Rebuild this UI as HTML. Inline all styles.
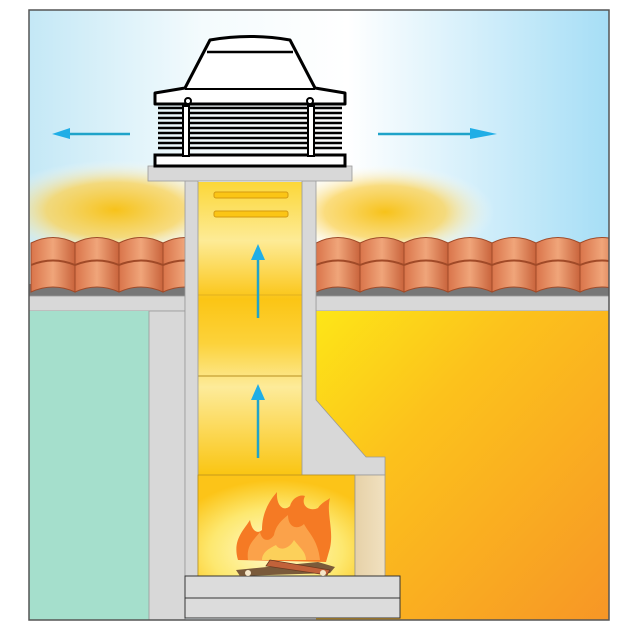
<!DOCTYPE html>
<html><head><meta charset="utf-8"><style>html,body{margin:0;padding:0;background:#fff}svg{display:block}</style></head><body>
<svg width="630" height="630" viewBox="0 0 630 630" xmlns="http://www.w3.org/2000/svg">
<defs>
<linearGradient id="sky" x1="0" y1="0" x2="1" y2="0">
<stop offset="0" stop-color="#c4e8f6"/><stop offset="0.3" stop-color="#f4fbfd"/><stop offset="0.55" stop-color="#ffffff"/><stop offset="1" stop-color="#a6def6"/></linearGradient>
<radialGradient id="glowL" cx="0.5" cy="0.5" r="0.5"><stop offset="0" stop-color="#f7c21a"/><stop offset="0.55" stop-color="#fad45e" stop-opacity="0.8"/><stop offset="1" stop-color="#fff" stop-opacity="0"/></radialGradient>
<linearGradient id="rightw" x1="0" y1="0" x2="1" y2="1"><stop offset="0" stop-color="#fde617"/><stop offset="0.35" stop-color="#fcc21c"/><stop offset="1" stop-color="#f79626"/></linearGradient>
<linearGradient id="chim" x1="0" y1="0" x2="0" y2="1"><stop offset="0" stop-color="#fcd738"/><stop offset="0.2" stop-color="#fdeb96"/><stop offset="0.4" stop-color="#fbc515"/><stop offset="0.55" stop-color="#fcd23a"/><stop offset="0.7" stop-color="#fdeb9a"/><stop offset="1" stop-color="#fac512"/></linearGradient>
<radialGradient id="fireg" cx="0.5" cy="0.75" r="0.7"><stop offset="0" stop-color="#fffbd0"/><stop offset="0.6" stop-color="#fde870"/><stop offset="1" stop-color="#fcc418"/></radialGradient>
<linearGradient id="tile" x1="0" y1="0" x2="1" y2="0"><stop offset="0" stop-color="#d9744a"/><stop offset="0.5" stop-color="#f0a57a"/><stop offset="1" stop-color="#c9643c"/></linearGradient>
<linearGradient id="pillar" x1="0" y1="0" x2="1" y2="0"><stop offset="0" stop-color="#e6d1a8"/><stop offset="1" stop-color="#f1e1c0"/></linearGradient>
<clipPath id="cl"><rect x="29" y="200" width="156" height="100"/><rect x="316" y="200" width="293" height="100"/></clipPath>
<clipPath id="fr"><rect x="29" y="10" width="580" height="610"/></clipPath>
</defs>
<rect x="0" y="0" width="630" height="630" fill="#fff"/>
<g clip-path="url(#fr)">
<rect x="29" y="10" width="580" height="610" fill="url(#sky)"/>
<ellipse cx="115" cy="210" rx="125" ry="50" fill="url(#glowL)"/>
<ellipse cx="385" cy="212" rx="110" ry="48" fill="url(#glowL)"/>
<g clip-path="url(#cl)">
<rect x="29" y="284" width="600" height="12" fill="#777"/>
<g id="tl">
<path d="M31 243 Q53 232 75 243 L75 292 Q53 282 31 292Z" fill="url(#tile)" stroke="#a04a28"/>
<path d="M31 265 Q53 256 75 265" fill="none" stroke="#a04a28" stroke-width="2"/>
</g>
<use href="#tl" x="44"/><use href="#tl" x="88"/><use href="#tl" x="132"/>
<use href="#tl" x="285"/><use href="#tl" x="329"/><use href="#tl" x="373"/><use href="#tl" x="417"/><use href="#tl" x="461"/><use href="#tl" x="505"/><use href="#tl" x="549"/>
</g>
<rect x="29" y="296" width="156" height="15" fill="#d8d8d8" stroke="#999" stroke-width="0.8"/>
<rect x="316" y="296" width="293" height="15" fill="#d8d8d8" stroke="#999" stroke-width="0.8"/>
<rect x="29" y="311" width="120" height="309" fill="#a5dfcc"/>
<rect x="149" y="311" width="36" height="309" fill="#d8d8d8" stroke="#999" stroke-width="0.8"/>
<rect x="316" y="311" width="293" height="309" fill="url(#rightw)"/>
</g>
<rect x="198" y="182" width="104" height="293" fill="url(#chim)"/>
<line x1="198" y1="295" x2="302" y2="295" stroke="#d8a820" stroke-width="0.8"/>
<line x1="198" y1="376" x2="302" y2="376" stroke="#b89020" stroke-width="1"/>
<rect x="214" y="192" width="74" height="6" rx="2" fill="#fbc515" stroke="#d49a10"/>
<rect x="214" y="211" width="74" height="6" rx="2" fill="#fbc515" stroke="#d49a10"/>
<rect x="185" y="180" width="13" height="400" fill="#d8d8d8" stroke="#999" stroke-width="0.8"/>
<path d="M302 180 L316 180 L316 400 L366 457 L385 457 L385 475 L302 475Z" fill="#d8d8d8" stroke="#999" stroke-width="0.8"/>
<rect x="198" y="475" width="157" height="101" fill="url(#fireg)" stroke="#b89020" stroke-width="0.8"/>
<rect x="355" y="475" width="30" height="101" fill="url(#pillar)" stroke="#999" stroke-width="0.8"/>
<rect x="185" y="576" width="215" height="22" fill="#dcdcdc" stroke="#333" stroke-width="1"/>
<rect x="185" y="598" width="215" height="20" fill="#dcdcdc" stroke="#333" stroke-width="1"/>
<path d="M238 560 C232 540 244 530 250 520 C252 532 258 534 262 530 C262 512 270 500 277 492 C276 506 284 512 290 506 C292 498 300 494 305 496 C300 506 310 512 318 508 C322 502 328 500 330 498 C326 512 334 530 330 548 L326 562Z" fill="#f57a24"/>
<path d="M248 560 C246 545 254 540 260 532 C262 542 270 542 274 535 C276 525 282 520 288 515 C288 528 298 530 304 524 C308 532 318 540 320 560Z" fill="#fba24a"/>
<path d="M262 560 C262 552 270 548 276 545 C280 552 290 548 294 540 C300 548 306 552 306 560Z" fill="#fcd05a"/>
<path d="M236 570 L318 562 L335 567 L330 573 L240 576Z" fill="#7a5a3a"/>
<path d="M270 560 L330 570 L327 575 L266 566Z" fill="#c2623a" stroke="#6a3a20" stroke-width="0.8"/>
<circle cx="248" cy="573" r="3" fill="#f5e6c8"/><circle cx="323" cy="573" r="3" fill="#f5e6c8"/>
<rect x="148" y="166" width="204" height="15" fill="#d8d8d8" stroke="#999" stroke-width="0.8"/>
<rect x="155" y="155" width="190" height="11" fill="#fff" stroke="#000" stroke-width="3"/>
<g stroke="#000" stroke-width="2.6">
<line x1="158" y1="108" x2="342" y2="108"/><line x1="158" y1="113" x2="342" y2="113"/><line x1="158" y1="118" x2="342" y2="118"/><line x1="158" y1="123" x2="342" y2="123"/><line x1="158" y1="128" x2="342" y2="128"/><line x1="158" y1="133" x2="342" y2="133"/><line x1="158" y1="138" x2="342" y2="138"/><line x1="158" y1="143" x2="342" y2="143"/><line x1="158" y1="148" x2="342" y2="148"/>
</g>
<rect x="183" y="106" width="6" height="50" fill="#fff" stroke="#000" stroke-width="2"/>
<rect x="308" y="106" width="6" height="50" fill="#fff" stroke="#000" stroke-width="2"/>
<path d="M155 93 L185 88 L210 40 Q250 33 290 40 L315 88 L345 93 L345 104 L155 104Z" fill="#fff" stroke="#000" stroke-width="3" stroke-linejoin="round"/>
<line x1="207" y1="52" x2="293" y2="52" stroke="#000" stroke-width="2.5"/>
<line x1="185" y1="89" x2="315" y2="89" stroke="#000" stroke-width="2"/>
<circle cx="188" cy="101" r="3" fill="#fff" stroke="#000" stroke-width="2"/>
<circle cx="310" cy="101" r="3" fill="#fff" stroke="#000" stroke-width="2"/>
<g stroke="#1fa3c9" stroke-width="2.5" fill="#20aee6">
<line x1="258" y1="318" x2="258" y2="255"/><path d="M251 260 L258 244 L265 260Z" stroke="none"/>
<line x1="258" y1="458" x2="258" y2="395"/><path d="M251 400 L258 384 L265 400Z" stroke="none"/>
<line x1="130" y1="134" x2="65" y2="134"/><path d="M70 128 L52 134 L70 139Z" stroke="none"/>
<line x1="378" y1="134" x2="480" y2="134"/><path d="M470 128 L497 134 L470 139Z" stroke="none"/>
</g>
<rect x="29" y="10" width="580" height="610" fill="none" stroke="#555" stroke-width="1.5"/>
</svg>
</body></html>
